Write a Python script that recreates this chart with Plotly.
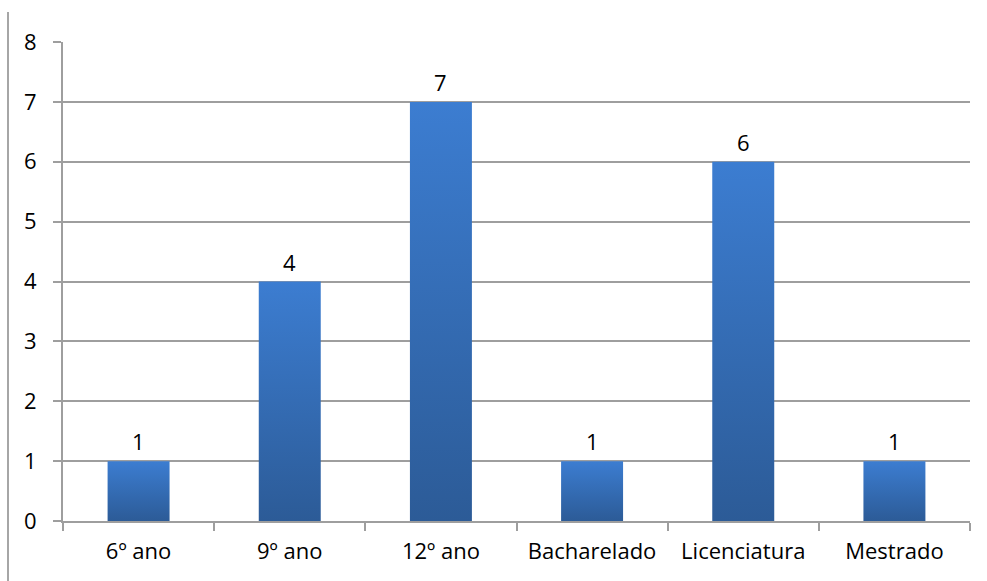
import plotly.graph_objects as go

categories = ["6º ano", "9º ano", "12º ano", "Bacharelado", "Licenciatura", "Mestrado"]
values = [1, 4, 7, 1, 6, 1]
y_ticks = [0, 1, 2, 3, 4, 5, 6, 7, 8]

BAR_WIDTH = 0.41
TOP_BLUE = "#3C7DD1"
BOTTOM_BLUE = "#2C5B97"
GRID = "#9E9E9E"
FONT = "Open Sans, Noto Sans, sans-serif"
FSIZE = 22

fig = go.Figure()

# Category axis carrying the values, labels and boundary ticks
fig.add_trace(go.Bar(
    x=categories, y=values, width=BAR_WIDTH,
    marker=dict(color="rgba(0,0,0,0)", line=dict(width=0)),
    hoverinfo="x+y", showlegend=False,
))

# Gradient-filled bar bodies on an overlaid numeric axis
for i, v in enumerate(values):
    x0, x1 = i - BAR_WIDTH / 2, i + BAR_WIDTH / 2
    fig.add_trace(go.Scatter(
        x=[x0, x1, x1, x0, x0], y=[0, 0, v, v, 0],
        xaxis="x2", mode="lines", fill="toself",
        line=dict(width=0),
        fillgradient=dict(type="vertical",
                          colorscale=[[0, BOTTOM_BLUE], [1, TOP_BLUE]]),
        hoverinfo="skip", showlegend=False,
    ))

# Value labels above each bar
for cat, v in zip(categories, values):
    fig.add_annotation(x=cat, y=v, text=str(v), showarrow=False,
                       yanchor="bottom", yshift=3,
                       font=dict(family=FONT, size=FSIZE, color="#000"))

# Thin frame line at the left edge
fig.add_shape(type="line", xref="paper", yref="paper",
              x0=-55 / 907, x1=-55 / 907, y0=-60 / 479, y1=509 / 479,
              line=dict(color="#A6A6A6", width=2))

fig.update_layout(
    width=987, height=581,
    margin=dict(l=63, r=17, t=42, b=60),
    paper_bgcolor="white", plot_bgcolor="white",
    font=dict(family=FONT, size=FSIZE, color="#000"),
    bargap=0.59,
    xaxis=dict(
        type="category", range=[-0.5, 5.5],
        tickson="boundaries", ticks="outside", ticklen=8,
        tickcolor=GRID, tickwidth=2,
        showline=True, linecolor=GRID, linewidth=2,
        showgrid=False, ticklabelstandoff=10,
        tickfont=dict(family=FONT, size=FSIZE),
    ),
    xaxis2=dict(
        overlaying="x", range=[-0.5, 5.5], visible=False,
    ),
    yaxis=dict(
        range=[0, 8], tickvals=y_ticks,
        ticks="outside", ticklen=8, tickcolor=GRID, tickwidth=2,
        showline=True, linecolor=GRID, linewidth=2,
        showgrid=True, gridcolor=GRID, gridwidth=2,
        zeroline=False, ticklabelstandoff=12,
        tickfont=dict(family=FONT, size=FSIZE),
    ),
)

fig.write_html("out.html")
